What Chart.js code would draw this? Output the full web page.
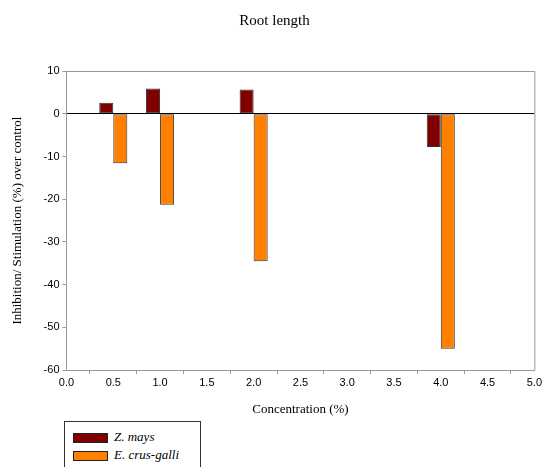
<!DOCTYPE html>
<html>
<head>
<meta charset="utf-8">
<script src="https://cdn.jsdelivr.net/npm/chart.js@4/dist/chart.umd.min.js"></script>
<style>
  body { margin: 0; background: #fff; }
  #wrap { position: relative; width: 544px; height: 467px; }
  #legendBox {
    position: absolute; left: 64px; top: 421px; width: 135px; height: 50px;
    border: 1px solid #333; background: #fff;
    font-family: "Liberation Serif", serif; font-style: italic; font-size: 13px;
  }
  .item { position: absolute; left: 8px; height: 14px; line-height: 14px; }
  .sw { display: inline-block; width: 33px; height: 8px; border: 1px solid #222; vertical-align: middle; margin-right: 6px; }
</style>
</head>
<body>
<div id="wrap">
  <canvas id="grafico" width="544" height="467"></canvas>
  <div id="legendBox">
    <div class="item" style="top:8px"><span class="sw" style="background:#800000"></span>Z. mays</div>
    <div class="item" style="top:26px"><span class="sw" style="background:#FF8000"></span>E. crus-galli</div>
  </div>
</div>
<script>
var concentraciones = [0.5, 1.0, 2.0, 4.0];
var zMays = [2.6, 5.9, 5.7, -7.8];
var eCrusGalli = [-11.6, -21.3, -34.5, -55.0];

function puntos(valores) {
    return concentraciones.map(function (c, i) { return { x: c, y: valores[i] }; });
}

var marco = {
    id: 'marco',
    afterDraw: function (chart) {
        var ctx = chart.ctx;
        var a = chart.chartArea;
        ctx.save();
        ctx.strokeStyle = '#999';
        ctx.lineWidth = 1;
        ctx.beginPath();
        ctx.moveTo(a.left, a.top + 0.5);
        ctx.lineTo(a.right + 0.5, a.top + 0.5);
        ctx.lineTo(a.right + 0.5, a.bottom);
        ctx.stroke();
        ctx.restore();
    }
};

var ctx = document.getElementById("grafico");
var myBarChart = new Chart(ctx, {
    type: 'bar',
    data: {
        datasets: [{
                label: 'Z. mays',
                data: puntos(zMays),
                backgroundColor: '#800000',
                borderColor: '#333',
                borderWidth: 1,
                borderSkipped: false
            }, {
                label: 'E. crus-galli',
                data: puntos(eCrusGalli),
                backgroundColor: '#FF8000',
                borderColor: '#333',
                borderWidth: 1,
                borderSkipped: false
            }]
    },
    options: {
        responsive: false,
        animation: false,
        categoryPercentage: 0.6,
        barPercentage: 1.0,
        layout: { padding: { left: 10, right: 5, top: 12, bottom: 50 } },
        plugins: {
            legend: { display: false },
            tooltip: { enabled: false },
            title: {
                display: true,
                text: 'Root length',
                color: '#000',
                font: { family: 'Liberation Serif', size: 15, weight: 'normal' },
                padding: { top: 0, bottom: 41 }
            }
        },
        scales: {
            x: {
                type: 'linear',
                min: 0, max: 5,
                offset: false,
                ticks: {
                    stepSize: 0.5,
                    color: '#000',
                    font: { family: 'Liberation Sans', size: 11 },
                    maxRotation: 0,
                    padding: 2,
                    callback: function (v) { return v.toFixed(1); }
                },
                grid: { display: true, drawOnChartArea: false, tickLength: 4, color: '#999' },
                border: { color: '#999' },
                title: {
                    display: true,
                    text: 'Concentration (%)',
                    color: '#000',
                    font: { family: 'Liberation Serif', size: 13 },
                    padding: { top: 10, bottom: 0 }
                }
            },
            y: {
                min: -60, max: 10,
                ticks: {
                    stepSize: 10,
                    color: '#000',
                    font: { family: 'Liberation Sans', size: 11 },
                    padding: 3
                },
                grid: {
                    color: function (c) { return c.tick && c.tick.value === 0 ? '#000' : 'rgba(0,0,0,0)'; },
                    tickColor: '#999',
                    tickLength: 4,
                    lineWidth: 1
                },
                border: { color: '#999' },
                title: {
                    display: true,
                    text: 'Inhibition/ Stimulation (%) over control',
                    color: '#000',
                    font: { family: 'Liberation Serif', size: 13 },
                    padding: { top: 0, bottom: 15 }
                }
            }
        }
    },
    plugins: [marco]
});
</script>
</body>
</html>
